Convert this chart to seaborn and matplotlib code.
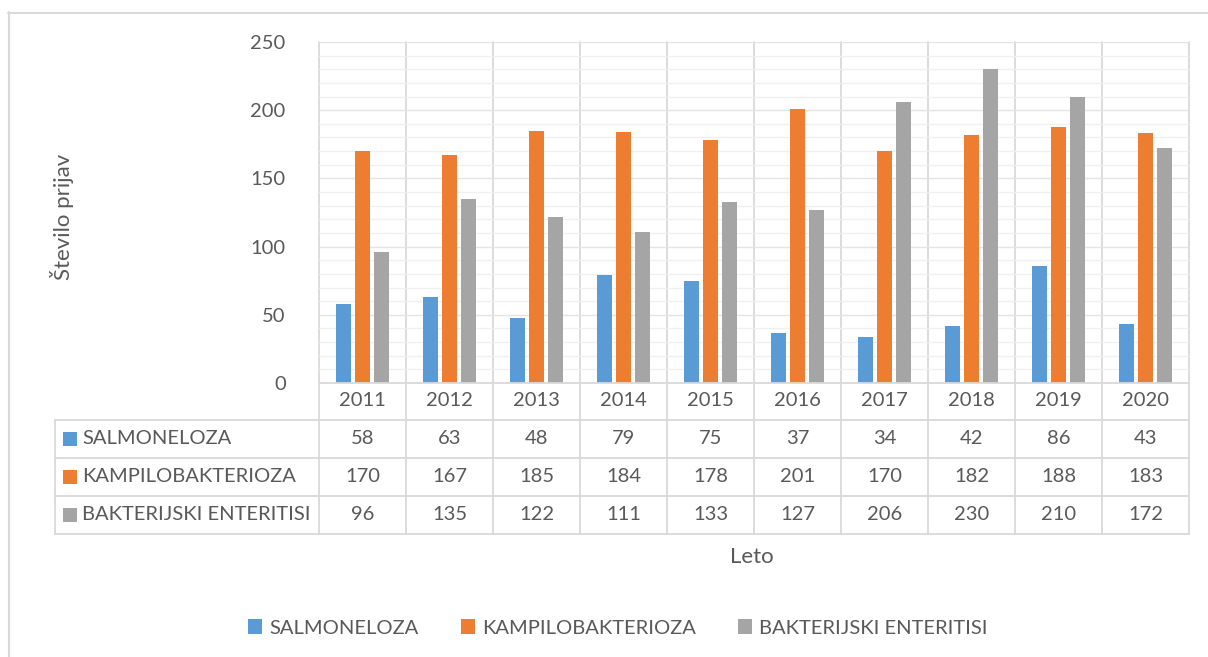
import numpy as np
import pandas as pd
import matplotlib
matplotlib.use('Agg')
import matplotlib.pyplot as plt
import matplotlib.transforms as mtransforms
from matplotlib.lines import Line2D
from matplotlib.patches import Patch, Rectangle
from matplotlib.ticker import MultipleLocator
import seaborn as sns

years = ['2011', '2012', '2013', '2014', '2015', '2016', '2017', '2018', '2019', '2020']
salmoneloza = [58, 63, 48, 79, 75, 37, 34, 42, 86, 43]
kampilobakterioza = [170, 167, 185, 184, 178, 201, 170, 182, 188, 183]
bakterijski = [96, 135, 122, 111, 133, 127, 206, 230, 210, 172]
series_names = ['SALMONELOZA', 'KAMPILOBAKTERIOZA', 'BAKTERIJSKI ENTERITISI']
series_values = [salmoneloza, kampilobakterioza, bakterijski]
colors = ['#5B9BD5', '#ED7D31', '#A5A5A5']

df = pd.DataFrame({
    'Leto': years * 3,
    'Bolezen': [n for n in series_names for _ in years],
    'Prijave': salmoneloza + kampilobakterioza + bakterijski,
})

sns.set_theme(style='white')
plt.rcParams['font.family'] = ['Lato', 'DejaVu Sans']
txt = '#595959'
grid_col = '#D9D9D9'
fs = 14.5
fs_title = 16

W, H = 1208, 657
fig = plt.figure(figsize=(W / 100, H / 100), dpi=100)


def fx(px):
    return px / W


def fy(py):
    return 1 - py / H


ax = fig.add_axes([fx(319), fy(383), fx(1189) - fx(319), fy(42) - fy(383)])
sns.barplot(data=df, x='Leto', y='Prijave', hue='Bolezen', hue_order=series_names,
            palette=colors, width=0.65, gap=0.2, saturation=1, linewidth=0,
            legend=False, ax=ax)

ax.set_xlim(-0.5, len(years) - 0.5)
ax.set_ylim(0, 250)
ax.yaxis.set_major_locator(MultipleLocator(50))
ax.yaxis.set_minor_locator(MultipleLocator(10))
ax.grid(which='major', axis='y', color='#E4E4E4', lw=1)
ax.grid(which='minor', axis='y', color='#F0F0F0', lw=1)
ax.set_axisbelow(True)
for s in ax.spines.values():
    s.set_visible(False)
ax.tick_params(axis='y', which='both', length=0, pad=24, labelsize=fs, labelcolor=txt)
ax.tick_params(axis='x', length=0, labelbottom=False)
ax.set_xlabel('')
ax.set_ylabel('')

# data table under the plot
blend = mtransforms.blended_transform_factory(ax.transData, fig.transFigure)
bounds = np.arange(len(years) + 1) - 0.5
for b in bounds:
    ax.plot([b, b], [fy(42), fy(534)], transform=blend, color=grid_col, lw=1.3,
            clip_on=False, zorder=0.5)
fig.add_artist(Line2D([fx(319), fx(1189)], [fy(383), fy(383)], color=grid_col, lw=1.3))
for py in [420, 458, 496, 534]:
    fig.add_artist(Line2D([fx(55), fx(1189)], [fy(py), fy(py)], color=grid_col, lw=1.3))
fig.add_artist(Line2D([fx(55), fx(55)], [fy(420), fy(534)], color=grid_col, lw=1.3))

for i, y in enumerate(years):
    ax.text(i, fy(401), y, transform=blend, ha='center', va='center',
            fontsize=fs, color=txt)

row_centers = [439, 477, 515]
for name, vals, col, rc in zip(series_names, series_values, colors, row_centers):
    fig.add_artist(Rectangle((fx(63), fy(rc + 7)), fx(14), 14 / H, color=col, lw=0))
    fig.text(fx(82), fy(rc), name, ha='left', va='center', fontsize=fs, color=txt)
    for i, v in enumerate(vals):
        ax.text(i, fy(rc), str(v), transform=blend, ha='center', va='center',
                fontsize=fs, color=txt)

fig.text(fx(62), fy(217), 'Število prijav', rotation=90, ha='center', va='center',
         fontsize=fs_title, color=txt)
fig.text(fx(752), fy(557), 'Leto', ha='center', va='center', fontsize=fs_title, color=txt)

handles = [Patch(facecolor=c, edgecolor='none', label=n) for n, c in zip(series_names, colors)]
fig.legend(handles=handles, loc='center', bbox_to_anchor=(fx(618), fy(628)), ncol=3,
           frameon=False, fontsize=fs, labelcolor=txt, handlelength=0.7,
           handleheight=0.7, handletextpad=0.35, columnspacing=2.1)

# chart border
fig.add_artist(Line2D([fx(8.5), fx(8.5)], [fy(12), 0], color=grid_col, lw=1.5))
fig.add_artist(Line2D([fx(8), 1], [fy(12.5), fy(12.5)], color=grid_col, lw=1.5))

fig.savefig('out.png', dpi=100, facecolor='white')
